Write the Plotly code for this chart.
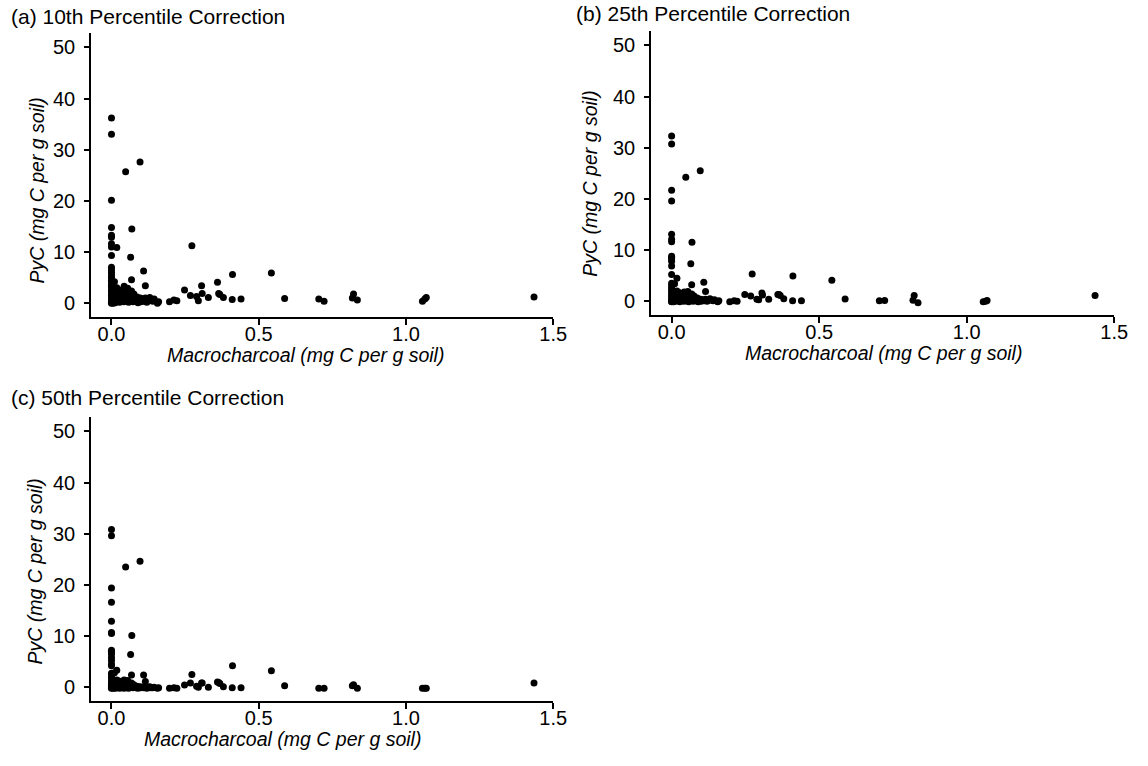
import plotly.graph_objects as go

# Shared macrocharcoal values (mg C per g soil) and PyC under three corrections
macro = [
    0.0, 0.0, 0.097, 0.048, 0.0, 0.0, 0.0, 0.0, 0.0, 0.0, 0.0, 0.018, 0.069, 0.065,
    0.273, 0.109, 0.068, 0.115, 0.411, 0.543, 0.360, 0.306, 0.248, 0.268, 0.289,
    0.295, 0.329, 0.308, 0.368, 0.380, 0.410, 0.440, 0.588, 0.704, 0.722, 0.818,
    0.822, 0.835, 1.056, 1.064, 1.069, 1.435, 0.156, 0.160, 0.197, 0.212, 0.222,
    0.133, 0.364,
    0.0, 0.0, 0.0, 0.0, 0.0, 0.0, 0.0, 0.0, 0.0, 0.0, 0.0, 0.0, 0.0, 0.0, 0.0, 0.0,
    0.005, 0.008, 0.010, 0.012, 0.015, 0.018, 0.020, 0.022, 0.025, 0.028, 0.030,
    0.032, 0.035, 0.038, 0.040, 0.042, 0.043, 0.045, 0.048, 0.050, 0.052, 0.055,
    0.058, 0.060, 0.062, 0.065, 0.068, 0.070, 0.073, 0.076, 0.080, 0.083, 0.087,
    0.090, 0.094, 0.098, 0.100, 0.105, 0.110, 0.115, 0.120, 0.125, 0.130, 0.140,
    0.145, 0.003, 0.006, 0.013,
]

pyc_10 = [
    36.2, 33.0, 27.6, 25.7, 20.1, 14.8, 13.3, 12.9, 11.6, 11.0, 9.3, 10.9, 14.5, 9.0,
    11.2, 6.3, 4.6, 3.4, 5.6, 5.9, 4.1, 3.4, 2.6, 1.5, 1.3,
    0.5, 1.1, 1.9, 1.7, 1.1, 0.7, 0.8, 0.9, 0.8, 0.4, 1.0,
    1.8, 0.6, 0.4, 0.8, 1.1, 1.2, 0.0, 0.3, 0.3, 0.6, 0.5,
    0.85, 1.9,
    7.0, 6.5, 6.0, 5.5, 5.0, 4.5, 4.0, 3.5, 3.0, 2.5, 2.0, 1.5, 1.0, 0.5, 0.2, 0.0,
    2.8, 1.8, 4.2, 0.9, 2.2, 3.0, 0.5, 1.5, 2.6, 0.2, 1.2,
    2.0, 0.7, 1.6, 2.7, 0.3, 3.3, 1.0, 2.2, 0.5, 1.5, 2.9,
    0.2, 1.1, 1.9, 0.6, 2.4, 1.4, 0.3, 1.8, 0.9, 0.4, 1.2,
    0.1, 0.7, 1.0, 0.3, 0.8, 0.4, 1.0, 0.2, 0.6, 1.1, 0.4,
    0.8, 0.5, 0.0, 0.1,
]

pyc_25 = [
    32.3, 30.7, 25.5, 24.2, 21.7, 19.6, 13.1, 12.1, 11.6, 8.8, 8.3, 4.5, 11.5, 7.3,
    5.3, 3.7, 3.2, 1.9, 4.9, 4.1, 1.3, 1.6, 1.3, 1.0, 0.4,
    0.3, 0.4, 1.2, 1.1, 0.5, 0.1, 0.1, 0.45, 0.1, 0.15, 0.2,
    1.1, -0.3, -0.1, 0.0, 0.15, 1.1, -0.1, 0.1, -0.1, 0.1, 0.0,
    0.3, 1.3,
    8.5, 7.8, 6.9, 5.2, 3.5, 3.0, 2.6, 2.2, 1.8, 1.3, 0.9, 0.5, 0.2, 0.0, -0.1, 0.0,
    1.5, 0.9, 3.4, 0.3, 1.4, 2.0, 0.1, 0.8, 1.7, -0.1, 0.6,
    1.2, 0.2, 1.0, 1.6, 0.0, 1.8, 0.4, 1.4, 0.1, 0.9, 1.9,
    -0.1, 0.5, 1.2, 0.2, 1.4, 0.7, 0.0, 1.0, 0.4, 0.1, 0.6,
    -0.1, 0.3, 0.4, 0.0, 0.3, 0.1, 0.4, 0.0, 0.2, 0.5, 0.1,
    0.3, 0.1, -0.1, 0.0,
]

pyc_50 = [
    30.8, 29.6, 24.6, 23.5, 19.4, 16.6, 12.9, 10.7, 10.5, 7.2, 6.8, 3.3, 10.1, 6.4,
    2.5, 2.4, 2.4, 1.1, 4.2, 3.2, 1.0, 0.8, 0.45, 0.8, 0.2,
    0.0, 0.0, 0.8, 0.7, 0.1, -0.1, -0.1, 0.26, -0.2, -0.2, 0.3,
    0.5, -0.2, -0.2, -0.2, -0.2, 0.8, -0.2, -0.1, -0.2, -0.1, -0.2,
    -0.1, 0.9,
    7.0, 6.5, 5.8, 5.2, 4.5, 4.2, 2.7, 2.2, 1.8, 1.2, 0.8, 0.4, 0.1, 0.0, -0.1, -0.2,
    0.8, 0.3, 2.8, 0.0, 0.9, 1.4, -0.1, 0.3, 1.2, -0.2, 0.2,
    0.7, 0.0, 0.5, 1.2, -0.2, 1.4, 0.1, 0.9, -0.1, 0.5, 1.3,
    -0.2, 0.2, 0.8, 0.0, 0.8, 0.3, -0.1, 0.5, 0.1, -0.1, 0.2,
    -0.2, 0.0, 0.1, -0.1, 0.0, -0.1, 0.1, -0.2, 0.0, 0.1, -0.1,
    0.0, -0.1, -0.2, -0.2,
]

titles = ["(a) 10th Percentile Correction", "(b) 25th Percentile Correction",
          "(c) 50th Percentile Correction"]
x_ticks = [0.0, 0.5, 1.0, 1.5]
x_ticklabels = ["0.0", "0.5", "1.0", "1.5"]
y_ticks = [0, 10, 20, 30, 40, 50]
x_label = "Macrocharcoal (mg C per g soil)"
y_label = "PyC (mg C per g soil)"

W, H = 1148, 766
FONT = "Liberation Sans, Arial, sans-serif"

# panel boxes in pixels: (left, right, top, bottom)
boxes = [(92, 560, 33, 317), (659, 1128, 31, 315), (92, 560, 417, 701)]
title_pos = [(9, 17), (581, 14), (9, 397)]
xlab_pos = [(309, 355), (894, 353), (286, 739)]
ylab_pos = [(37, 191), (597, 184), (35, 572)]

fig = go.Figure()
series = [pyc_10, pyc_25, pyc_50]
for i, ys in enumerate(series):
    sfx = "" if i == 0 else str(i + 1)
    fig.add_trace(go.Scatter(
        x=macro, y=ys, mode="markers", xaxis="x" + sfx, yaxis="y" + sfx,
        marker=dict(color="black", size=7, line=dict(width=0)),
        showlegend=False, hoverinfo="x+y"))
    l, r, t, b = boxes[i]
    ax = dict(domain=[l / W, r / W], range=[-0.07, 1.5], tickvals=x_ticks,
              ticktext=x_ticklabels, showgrid=False, zeroline=False,
              showline=True, linecolor="black", linewidth=1.5,
              ticks="outside", ticklen=6, tickwidth=1.5, tickcolor="black",
              ticklabelstandoff=-8,
              tickfont=dict(family=FONT, size=20, color="black"),
              anchor="y" + sfx, fixedrange=True)
    ay = dict(domain=[1 - b / H, 1 - t / H], range=[-2.7, 52.8], tickvals=y_ticks,
              showgrid=False, zeroline=False, showline=True, linecolor="black",
              linewidth=1.5, ticks="outside", ticklen=5, tickwidth=1.5,
              tickcolor="black", ticklabelstandoff=5,
              tickfont=dict(family=FONT, size=20, color="black"),
              anchor="x" + sfx, fixedrange=True)
    fig.layout["xaxis" + sfx] = ax
    fig.layout["yaxis" + sfx] = ay
    # panel title
    tx, ty = title_pos[i]
    fig.add_annotation(text=titles[i], xref="paper", yref="paper",
                       x=tx / W, y=1 - ty / H, xanchor="left", yanchor="middle",
                       showarrow=False, font=dict(family=FONT, size=21, color="black"))
    # axis titles
    xx, xy = xlab_pos[i]
    fig.add_annotation(text="<i>" + x_label + "</i>", xref="paper", yref="paper",
                       x=xx / W, y=1 - xy / H,
                       xanchor="center", yanchor="middle", showarrow=False,
                       font=dict(family=FONT, size=19.5, color="black"))
    yx, yy = ylab_pos[i]
    fig.add_annotation(text="<i>" + y_label + "</i>", xref="paper", yref="paper",
                       x=yx / W, y=1 - yy / H,
                       xanchor="center", yanchor="middle", textangle=-90,
                       showarrow=False, font=dict(family=FONT, size=19.5, color="black"))

fig.update_layout(width=W, height=H, margin=dict(l=0, r=0, t=0, b=0),
                  paper_bgcolor="white", plot_bgcolor="white")
fig.write_html("out.html", config={"displayModeBar": False})
